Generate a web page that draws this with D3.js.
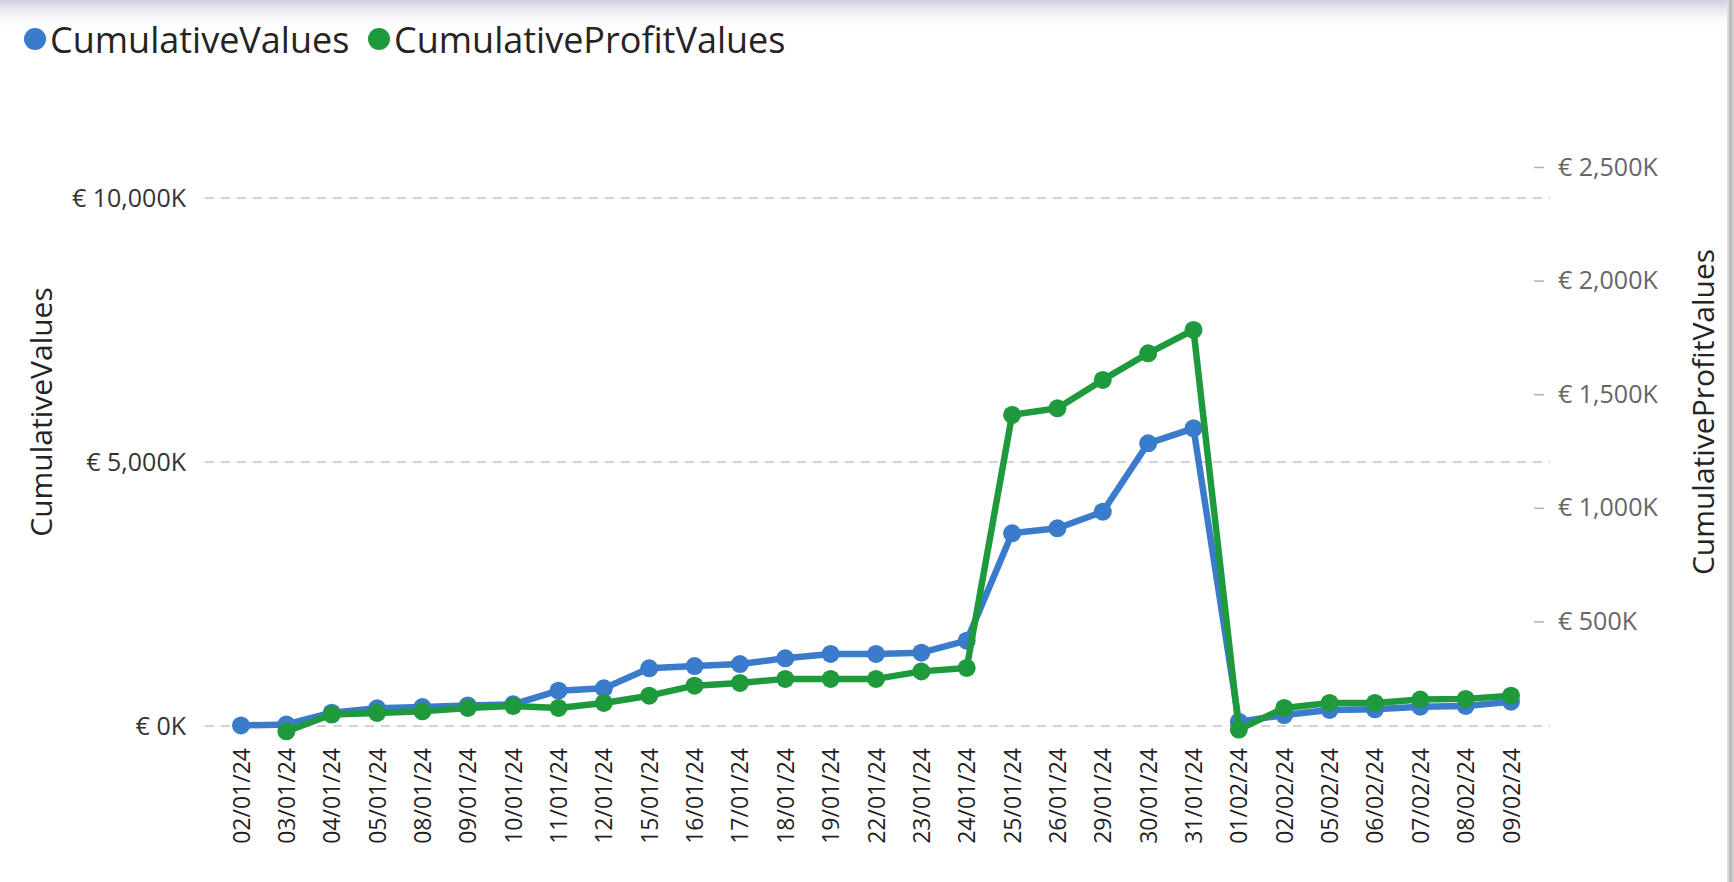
<!DOCTYPE html>
<html>
<head>
<meta charset="utf-8">
<script src="https://cdn.jsdelivr.net/npm/d3@7/dist/d3.min.js"></script>
<style>
  html, body { margin: 0; padding: 0; background: #ffffff; }
  svg { display: block; }
  text { font-family: "Open Sans", "Noto Sans", sans-serif; }
</style>
</head>
<body>
<svg id="chart" width="1734" height="882"></svg>
<script>
const categories = ["02/01/24","03/01/24","04/01/24","05/01/24","08/01/24","09/01/24","10/01/24","11/01/24","12/01/24","15/01/24","16/01/24","17/01/24","18/01/24","19/01/24","22/01/24","23/01/24","24/01/24","25/01/24","26/01/24","29/01/24","30/01/24","31/01/24","01/02/24","02/02/24","05/02/24","06/02/24","07/02/24","08/02/24","09/02/24"];
// values in thousands of euros
const cumulativeValues = [10, 30, 252, 335, 360, 390, 410, 669, 713, 1092, 1136, 1174, 1282, 1364, 1364, 1389, 1616, 3650, 3744, 4059, 5354, 5638, 81, 208, 303, 316, 366, 379, 461];
const cumulativeProfitValues = [null, 16, 90, 97, 104, 119, 128, 119, 141, 173, 217, 229, 247, 247, 247, 280, 295, 1409, 1438, 1563, 1680, 1783, 24, 119, 141, 141, 156, 159, 173];
const leftTicks = [0, 5000, 10000];
const rightTicks = [500, 1000, 1500, 2000, 2500];
const seriesNames = ["CumulativeValues", "CumulativeProfitValues"];
const seriesColors = ["#3a7bcc", "#1e9a3c"];

const svg = d3.select("#chart");
const defs = svg.append("defs");

// top shadow
const g1 = defs.append("linearGradient").attr("id", "topShade").attr("x1", 0).attr("y1", 0).attr("x2", 0).attr("y2", 1);
g1.append("stop").attr("offset", "0%").attr("stop-color", "#cfd0e0");
g1.append("stop").attr("offset", "100%").attr("stop-color", "#ffffff").attr("stop-opacity", 0);
svg.append("rect").attr("x", 0).attr("y", 0).attr("width", 1734).attr("height", 30).attr("fill", "url(#topShade)");
// right border
const g2 = defs.append("linearGradient").attr("id", "rightShade").attr("x1", 0).attr("y1", 0).attr("x2", 1).attr("y2", 0);
g2.append("stop").attr("offset", "0%").attr("stop-color", "#e6e6e6");
g2.append("stop").attr("offset", "50%").attr("stop-color", "#b8b8b8");
g2.append("stop").attr("offset", "100%").attr("stop-color", "#d8d8d8");
svg.append("rect").attr("x", 1727).attr("y", 0).attr("width", 7).attr("height", 882).attr("fill", "url(#rightShade)");

const x = d3.scalePoint().domain(categories).range([241, 1511]);
const yL = d3.scaleLinear().domain([0, 10000]).range([726, 198]);
const yR = d3.scaleLinear().domain([0, 2500]).range([735, 167]);
const fmt = d3.format(",");

// gridlines (left axis)
svg.append("g").selectAll("line").data(leftTicks).join("line")
  .attr("x1", 205).attr("x2", 1550)
  .attr("y1", d => yL(d)).attr("y2", d => yL(d))
  .attr("stroke", "#c4c4c4").attr("stroke-width", 1.6)
  .attr("stroke-dasharray", "9,7");

// left axis
const leftAxis = d3.axisLeft(yL).tickValues(leftTicks).tickSize(0).tickPadding(0)
  .tickFormat(d => "€ " + fmt(d) + "K");
const gl = svg.append("g").attr("transform", "translate(186,0)").call(leftAxis);
gl.select(".domain").remove();
gl.selectAll("text").attr("font-size", 25).attr("fill", "#333333")
  .attr("font-family", "'Open Sans', sans-serif");

// right axis
const rightAxis = d3.axisRight(yR).tickValues(rightTicks).tickSize(10).tickPadding(14)
  .tickFormat(d => "€ " + fmt(d) + "K");
const gr = svg.append("g").attr("transform", "translate(1534,0)").call(rightAxis);
gr.select(".domain").remove();
gr.selectAll(".tick line").attr("stroke", "#b0b0b0").attr("stroke-width", 1.5);
gr.selectAll("text").attr("font-size", 25).attr("fill", "#666666")
  .attr("font-family", "'Open Sans', sans-serif");

// x axis
const xAxis = d3.axisBottom(x).tickSize(0).tickPadding(0);
const gx = svg.append("g").attr("transform", "translate(0,748)").call(xAxis);
gx.select(".domain").remove();
gx.selectAll("text")
  .attr("font-size", 23).attr("fill", "#1f1f1f")
  .attr("font-family", "'Open Sans', sans-serif")
  .attr("transform", "rotate(-90)")
  .attr("text-anchor", "end")
  .attr("x", 0).attr("y", 0).attr("dy", "0.35em");

// axis titles
svg.append("text").attr("transform", "translate(40,412) rotate(-90)")
  .attr("text-anchor", "middle").attr("dominant-baseline", "central")
  .attr("font-size", 30).attr("fill", "#252423").text("CumulativeValues");
svg.append("text").attr("transform", "translate(1702,412) rotate(-90)")
  .attr("text-anchor", "middle").attr("dominant-baseline", "central")
  .attr("font-size", 30).attr("fill", "#252423").text("CumulativeProfitValues");

// series
const series = [
  { name: seriesNames[0], color: seriesColors[0], y: yL, values: cumulativeValues },
  { name: seriesNames[1], color: seriesColors[1], y: yR, values: cumulativeProfitValues }
];
series.forEach(s => {
  const pts = categories.map((c, i) => ({ c, v: s.values[i] }));
  const line = d3.line().defined(d => d.v != null).x(d => x(d.c)).y(d => s.y(d.v));
  svg.append("path").datum(pts).attr("d", line)
    .attr("fill", "none").attr("stroke", s.color).attr("stroke-width", 6.5)
    .attr("stroke-linejoin", "round");
  svg.append("g").selectAll("circle").data(pts.filter(d => d.v != null)).join("circle")
    .attr("cx", d => x(d.c)).attr("cy", d => s.y(d.v)).attr("r", 9)
    .attr("fill", s.color);
});

// legend
const legend = svg.append("g");
const legendPos = [35, 379];
series.forEach((s, i) => {
  legend.append("circle").attr("cx", legendPos[i]).attr("cy", 39).attr("r", 11).attr("fill", s.color);
  legend.append("text").attr("x", legendPos[i] + 15).attr("y", 39)
    .attr("dominant-baseline", "central")
    .attr("font-size", 36).attr("fill", "#252423").text(s.name);
});
</script>
</body>
</html>
